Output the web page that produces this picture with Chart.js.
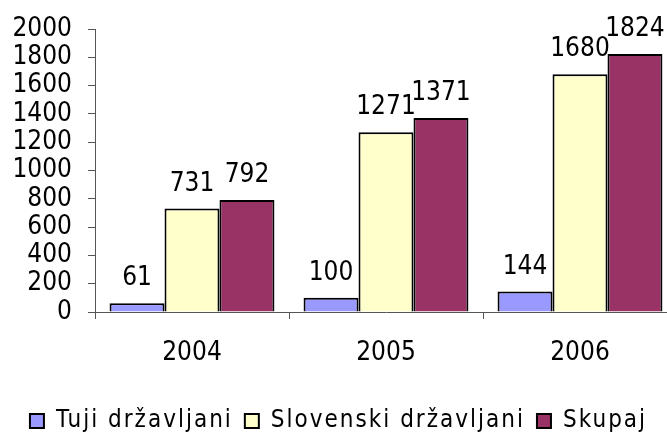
<!DOCTYPE html>
<html>
<head>
<meta charset="utf-8">
<script src="https://cdn.jsdelivr.net/npm/chart.js@4/dist/chart.umd.min.js"></script>
<style>
  html, body { margin: 0; padding: 0; background: #fff; overflow: hidden; }
  #wrap { position: absolute; left: 0; top: 0; width: 677px; height: 433px; }
</style>
</head>
<body>
<div id="wrap"><canvas id="c" width="677" height="433"></canvas></div>
<script>
const categories = ['2004', '2005', '2006'];
const seriesNames = ['Tuji državljani', 'Slovenski državljani', 'Skupaj'];
const tujiValues = [61, 100, 144];
const slovenskiValues = [731, 1271, 1680];
const skupajValues = [792, 1371, 1824];
const yTicks = [0, 200, 400, 600, 800, 1000, 1200, 1400, 1600, 1800, 2000];

const FONT = '"DejaVu Sans Condensed", "DejaVu Sans", sans-serif';
const FS = 26;
const LEGEND_FS = 24;
const LEGEND_SPACING = '2px';

const valueLabels = {
  id: 'valueLabels',
  afterDatasetsDraw(chart) {
    const ctx = chart.ctx;
    ctx.save();
    ctx.font = FS + 'px ' + FONT;
    ctx.fillStyle = '#000';
    ctx.textAlign = 'center';
    ctx.textBaseline = 'alphabetic';
    chart.data.datasets.forEach((ds, i) => {
      const meta = chart.getDatasetMeta(i);
      meta.data.forEach((bar, j) => {
        ctx.fillText(String(ds.data[j]), bar.x, bar.y - 18);
      });
    });
    ctx.restore();
  }
};

const chart = new Chart(document.getElementById('c'), {
  type: 'bar',
  data: {
    labels: categories,
    datasets: [
      { label: seriesNames[0], data: tujiValues, backgroundColor: '#9999FF', borderColor: '#000', borderWidth: 2 },
      { label: seriesNames[1], data: slovenskiValues, backgroundColor: '#FFFFCC', borderColor: '#000', borderWidth: 2 },
      { label: seriesNames[2], data: skupajValues, backgroundColor: '#993366', borderColor: '#000', borderWidth: 2 }
    ]
  },
  options: {
    responsive: false,
    animation: false,
    devicePixelRatio: 1,
    layout: { padding: { top: 29, left: 0, right: 0, bottom: -10 } },
    datasets: { bar: { categoryPercentage: 0.85, barPercentage: 1.0 } },
    plugins: {
      legend: {
        position: 'bottom',
        labels: {
          boxWidth: 14, boxHeight: 14, padding: 12,
          color: '#000',
          font: { family: FONT, size: LEGEND_FS }
        }
      },
      tooltip: { enabled: false }
    },
    scales: {
      x: {
        grid: { display: true, drawOnChartArea: false, tickLength: 7, color: '#555', offset: true },
        border: { color: '#555', width: 1 },
        ticks: { color: '#000', font: { family: FONT, size: FS }, padding: 19 },
        afterFit(s) { s.height = 85; }
      },
      y: {
        min: 0, max: 2000,
        afterBuildTicks(s) { s.ticks = yTicks.map(v => ({ value: v })); },
        grid: { display: true, drawOnChartArea: false, tickLength: 7, color: '#555' },
        border: { color: '#555', width: 1 },
        ticks: { color: '#000', autoSkip: false, font: { family: FONT, size: FS, lineHeight: 1 }, padding: 16,
                 callback: v => String(v) },
        afterFit(s) { s.width = 95; }
      }
    }
  },
  plugins: [valueLabels]
});

// wider letter spacing for the legend texts, as in the reference
const lg = chart.legend;
if (lg) {
  const fit0 = lg.fit.bind(lg);
  const draw0 = lg.draw.bind(lg);
  lg.fit = function () { const c = this.ctx; c.save(); c.letterSpacing = LEGEND_SPACING; fit0(); c.restore(); };
  lg.draw = function (a) { const c = this.ctx; c.save(); c.letterSpacing = LEGEND_SPACING; draw0(a); c.restore(); };
  chart.update();
}
</script>
</body>
</html>
